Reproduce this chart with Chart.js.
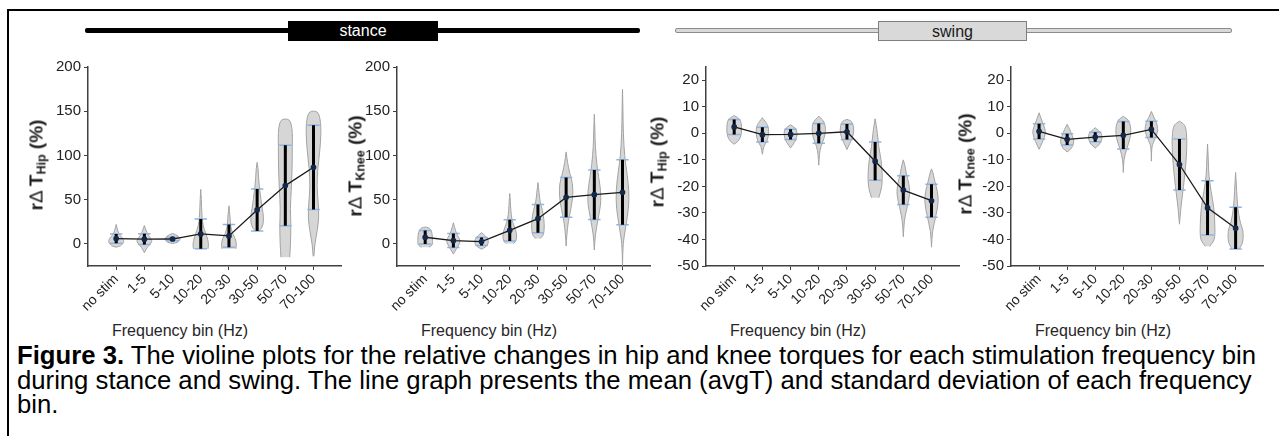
<!DOCTYPE html>
<html>
<head>
<meta charset="utf-8">
<script src="https://cdn.jsdelivr.net/npm/chart.js@4.4.0/dist/chart.umd.min.js"></script>
<style>
  body { margin: 0; width: 1279px; height: 436px; background: #fff; position: relative; overflow: hidden;
         font-family: Arial, "Liberation Sans", sans-serif; color: #1a1a1a; }
  .abs { position: absolute; }
  .frame-top { left: 7px; top: 9px; right: 0; height: 2px; background: #000; }
  .frame-left { left: 7px; top: 9px; bottom: 0; width: 2px; background: #000; }
  .phase-line { height: 5px; border-radius: 2px; box-sizing: border-box; }
  .phase-box { height: 20px; line-height: 19px; font-size: 16px; text-align: center; box-sizing: border-box; }
  .ytitle { transform: translate(-50%, -50%) rotate(-90deg); white-space: nowrap; font-size: 19px; color: #1a1a1a; }
  .ytitle b { font-weight: bold; }
  .ytitle sub { font-size: 12.5px; font-weight: bold; vertical-align: -3px; }
  .xtitle { transform: translateX(-50%); white-space: nowrap; font-size: 16px; color: #262626; }
  .caption { left: 17px; top: 343px; line-height: 24.5px; white-space: nowrap; color: #000; }
  canvas { position: absolute; }
</style>
</head>
<body>
<div class="abs frame-top"></div>
<div class="abs frame-left"></div>

<div class="abs phase-line" style="left:85px;top:28px;width:555px;background:#000;"></div>
<div class="abs phase-box" style="left:288px;top:21px;width:150px;background:#000;color:#fff;">stance</div>
<div class="abs phase-line" style="left:675px;top:28px;width:557px;background:#d9d9d9;border:1px solid #8c8c8c;"></div>
<div class="abs phase-box" style="left:878px;top:21px;width:149px;background:#d9d9d9;border:1px solid #7f7f7f;color:#1a1a1a;">swing</div>

<canvas id="c1" width="299" height="267" style="left:48px;top:55px;"></canvas>
<canvas id="c2" width="299" height="267" style="left:357px;top:55px;"></canvas>
<canvas id="c3" width="299" height="267" style="left:666px;top:55px;"></canvas>
<canvas id="c4" width="298" height="267" style="left:971px;top:55px;"></canvas>

<div class="abs ytitle" style="left:37px;top:165px;"><b>r</b>Δ <b>T</b><sub>Hip</sub> <b>(%)</b></div>
<div class="abs ytitle" style="left:356px;top:166px;"><b>r</b>Δ <b>T</b><sub>Knee</sub> <b>(%)</b></div>
<div class="abs ytitle" style="left:658px;top:162px;"><b>r</b>Δ <b>T</b><sub>Hip</sub> <b>(%)</b></div>
<div class="abs ytitle" style="left:966px;top:164px;"><b>r</b>Δ <b>T</b><sub>Knee</sub> <b>(%)</b></div>

<div class="abs xtitle" style="left:180px;top:322px;">Frequency bin (Hz)</div>
<div class="abs xtitle" style="left:489px;top:322px;">Frequency bin (Hz)</div>
<div class="abs xtitle" style="left:798px;top:322px;">Frequency bin (Hz)</div>
<div class="abs xtitle" style="left:1103px;top:322px;">Frequency bin (Hz)</div>

<div class="abs caption" id="caption">
  <span id="line1"><b>Figure 3.</b> The violine plots for the relative changes in hip and knee torques for each stimulation frequency bin</span><br>
  <span>during stance and swing. The line graph presents the mean (avgT) and standard deviation of each frequency</span><br>
  <span>bin.</span>
</div>

<script>
// --- DATA ---
const bins = ['no stim', '1-5', '5-10', '10-20', '20-30', '30-50', '50-70', '70-100'];

// stance, hip
const hipStanceMean = [6, 5.3, 5.5, 11.3, 9, 38.4, 65.9, 86.6];
const hipStanceSD = [5.3, 6.1, 1.9, 16.9, 12.8, 23.7, 45.5, 47.6];
const hipStanceViolins = [
    [[-3.7, 0], [-2, 0.6], [2, 1], [6, 0.9], [10, 0.5], [15, 0.22], [22, 0]],
    [[-9.9, 0], [-4, 0.4], [1, 0.9], [4, 1], [8, 0.7], [13, 0.35], [20.7, 0]],
    [[0.4, 0], [2, 0.7], [5, 1], [8, 0.85], [10.5, 0.4], [11.7, 0]],
    [[-5.6, 1], [0, 1.05], [8, 0.85], [16, 0.5], [25, 0.25], [35, 0.15], [50, 0.08], [61.7, 0]],
    [[-5.6, 0.95], [0, 1], [6, 0.85], [12, 0.5], [20, 0.25], [30, 0.15], [43, 0]],
    [[14.6, 0.2], [18, 0.6], [25, 0.85], [35, 0.8], [45, 0.6], [55, 0.45], [65, 0.3], [75, 0.2], [85, 0.12], [92.2, 0]],
    [[-15, 0.6], [0, 0.7], [20, 0.75], [40, 0.7], [60, 0.8], [80, 0.9], [110, 0.95], [130, 0.9], [140, 0.5]],
    [[-14, 0.05], [0, 0.2], [15, 0.5], [30, 0.7], [45, 0.65], [65, 0.5], [85, 0.6], [105, 0.85], [125, 1], [140, 0.9], [149, 0.5]]
];

// stance, knee
const kneeStanceMean = [7.5, 3.8, 2.6, 15.3, 28.5, 52.6, 55.6, 58.3];
const kneeStanceSD = [7.5, 7.9, 4.5, 12, 16, 22.4, 27.9, 36.7];
const kneeStanceViolins = [
    [[-3.8, 0.5], [-1, 0.95], [4, 1], [10, 0.95], [15, 0.8], [18.4, 0.4]],
    [[-11.5, 0], [-5, 0.45], [0, 0.8], [4, 0.9], [9, 0.6], [15, 0.3], [23.9, 0]],
    [[-6, 0], [-3, 0.6], [1, 0.9], [5, 0.85], [9, 0.5], [12.8, 0]],
    [[0.3, 0.5], [4, 0.85], [12, 0.9], [20, 0.6], [28, 0.3], [38, 0.15], [48, 0.08], [56.9, 0]],
    [[6, 0.3], [10, 0.7], [18, 0.85], [28, 0.8], [38, 0.6], [48, 0.3], [58, 0.15], [69.3, 0]],
    [[-2.4, 0], [10, 0.1], [25, 0.3], [40, 0.65], [55, 0.9], [68, 0.85], [80, 0.5], [92, 0.2], [104, 0]],
    [[-6.9, 0], [10, 0.15], [30, 0.55], [45, 0.85], [60, 0.85], [75, 0.6], [90, 0.35], [110, 0.15], [130, 0.07], [146.5, 0]],
    [[-24.6, 0], [0, 0.1], [20, 0.45], [40, 0.8], [60, 0.85], [80, 0.6], [100, 0.3], [125, 0.12], [150, 0.06], [174.8, 0]]
];

// swing, hip
const hipSwingMean = [2.4, -0.5, -0.4, 0, 0.6, -10.5, -21.4, -25.4];
const hipSwingSD = [2.8, 2.8, 1.9, 3.75, 2.9, 7.2, 5.4, 6.25];
const hipSwingViolins = [
    [[-4.1, 0], [-3, 0.5], [-1, 0.9], [2, 1], [5, 0.8], [6.75, 0]],
    [[-7.9, 0], [-5, 0.2], [-3, 0.6], [0, 0.85], [3, 0.7], [5.9, 0]],
    [[-5.5, 0], [-3.5, 0.5], [-1, 0.85], [1.5, 0.75], [3.25, 0]],
    [[-12, 0], [-8, 0.1], [-5, 0.3], [-2, 0.7], [1, 0.9], [4, 0.75], [6.5, 0]],
    [[-6.1, 0], [-4, 0.35], [-1, 0.8], [2, 0.9], [4.5, 0.6], [5.25, 0]],
    [[-24.25, 0.5], [-20, 0.9], [-15, 0.95], [-10, 0.8], [-5, 0.5], [0, 0.3], [3, 0.15], [5.5, 0]],
    [[-39, 0], [-33, 0.15], [-28, 0.5], [-23, 0.85], [-19, 0.75], [-15, 0.4], [-12, 0.2], [-10, 0]],
    [[-42.9, 0], [-37, 0.15], [-31, 0.6], [-26, 0.9], [-22, 0.8], [-18, 0.45], [-15, 0.2], [-13.4, 0]]
];

// swing, knee
const kneeSwingMean = [0.75, -2.25, -1.4, -0.75, 1.5, -11.75, -28.1, -35.75];
const kneeSwingSD = [2.9, 2.1, 1.8, 5.2, 3.1, 9.6, 10.2, 7.85];
const kneeSwingViolins = [
    [[-6, 0], [-3, 0.5], [0, 0.85], [2, 0.75], [5, 0.35], [7.75, 0]],
    [[-7, 0], [-5.5, 0.6], [-3, 0.9], [-1, 0.7], [1.5, 0.35], [3.4, 0]],
    [[-5.5, 0], [-4, 0.6], [-2, 0.9], [0, 0.8], [2.1, 0]],
    [[-14.75, 0], [-10, 0.1], [-6, 0.45], [-2, 0.9], [2, 1], [5, 0.65], [6.4, 0]],
    [[-10.5, 0], [-5, 0.1], [-2, 0.5], [1, 0.85], [4, 0.7], [6, 0.35], [8.25, 0]],
    [[-34.25, 0], [-28, 0.2], [-20, 0.55], [-12, 0.85], [-5, 1], [0, 0.95], [3, 0.7], [4.6, 0]],
    [[-42.6, 0.3], [-40, 0.9], [-35, 1], [-28, 0.85], [-22, 0.5], [-16, 0.2], [-10, 0.1], [-4, 0]],
    [[-43.6, 0.5], [-41, 0.95], [-37, 1], [-33, 0.6], [-28, 0.3], [-22, 0.15], [-14.75, 0]]
];

const stanceTicks = [0, 50, 100, 150, 200];
const swingTicks = [-50, -40, -30, -20, -10, 0, 10, 20];

// --- STYLE ---
const VIOLIN_HALF = 0.26;   // max half width, in category units
const CAP_HALF = 0.22;
const AXIS_COLOR = '#404040';
const TEXT_COLOR = '#222';

function violinShape(profile, center) {
    const right = profile.map(([y, w]) => ({ x: center + w * VIOLIN_HALF, y: y }));
    const left = profile.slice().reverse().map(([y, w]) => ({ x: center - w * VIOLIN_HALF, y: y }));
    return right.concat(left);
}

function buildDatasets(mean, sd, violins) {
    const sets = [];
    violins.forEach((profile, i) => {
        sets.push({
            data: violinShape(profile, i + 1),
            showLine: true,
            fill: 'shape',
            backgroundColor: 'rgba(200,200,200,0.75)',
            borderColor: '#a3a3a3',
            borderWidth: 1,
            pointRadius: 0,
            tension: 0.35,
            order: 4
        });
    });
    const bars = [], caps = [];
    mean.forEach((m, i) => {
        const x = i + 1;
        bars.push({ x: x, y: m - sd[i] }, { x: x, y: m + sd[i] }, { x: x, y: null });
        caps.push({ x: x - CAP_HALF, y: m - sd[i] }, { x: x + CAP_HALF, y: m - sd[i] }, { x: x, y: null });
        caps.push({ x: x - CAP_HALF, y: m + sd[i] }, { x: x + CAP_HALF, y: m + sd[i] }, { x: x, y: null });
    });
    sets.push({ data: caps, showLine: true, spanGaps: false, borderColor: '#8eb4e3', borderWidth: 1.5, pointRadius: 0, order: 3 });
    sets.push({ data: bars, showLine: true, spanGaps: false, borderColor: '#000', borderWidth: 3, pointRadius: 0, order: 2 });
    sets.push({
        data: mean.map((m, i) => ({ x: i + 1, y: m })),
        showLine: true,
        borderColor: '#1a1a1a',
        borderWidth: 1.3,
        pointRadius: 2.2,
        pointBackgroundColor: '#14284a',
        pointBorderColor: '#14284a',
        order: 1
    });
    return sets;
}

function makeChart(id, mean, sd, violins, yMin, yMax, yTicks) {
    const ctx = document.getElementById(id).getContext('2d');
    return new Chart(ctx, {
        type: 'scatter',
        data: { datasets: buildDatasets(mean, sd, violins) },
        options: {
            responsive: false,
            animation: false,
            layout: { padding: { top: 12, left: 0, right: 0, bottom: 0 } },
            plugins: { legend: { display: false }, tooltip: { enabled: false } },
            scales: {
                x: {
                    type: 'linear',
                    min: 0,
                    max: bins.length + 1,
                    afterBuildTicks: scale => { scale.ticks = bins.map((b, i) => ({ value: i + 1 })); },
                    afterFit: scale => { scale.height = 56; },
                    ticks: {
                        callback: v => bins[v - 1],
                        autoSkip: false,
                        minRotation: 45,
                        maxRotation: 45,
                        padding: 1,
                        color: TEXT_COLOR,
                        font: { family: 'Arial, "Liberation Sans"', size: 14 }
                    },
                    grid: { drawOnChartArea: false, drawTicks: true, tickLength: 4, color: AXIS_COLOR },
                    border: { display: true, color: AXIS_COLOR, width: 1.5 }
                },
                y: {
                    min: yMin,
                    max: yMax,
                    afterBuildTicks: scale => { scale.ticks = yTicks.map(v => ({ value: v })); },
                    afterFit: scale => { scale.width = 40; },
                    ticks: {
                        padding: 3,
                        color: TEXT_COLOR,
                        font: { family: 'Arial, "Liberation Sans"', size: 15 }
                    },
                    grid: { drawOnChartArea: false, drawTicks: true, tickLength: 4, color: AXIS_COLOR },
                    border: { display: true, color: AXIS_COLOR, width: 1.5 }
                }
            }
        }
    });
}

makeChart('c1', hipStanceMean, hipStanceSD, hipStanceViolins, -25, 200, stanceTicks);
makeChart('c2', kneeStanceMean, kneeStanceSD, kneeStanceViolins, -25, 200, stanceTicks);
makeChart('c3', hipSwingMean, hipSwingSD, hipSwingViolins, -50, 25, swingTicks);
makeChart('c4', kneeSwingMean, kneeSwingSD, kneeSwingViolins, -50, 25, swingTicks);

// fit caption font so the first line spans the figure width
const cap = document.getElementById('caption');
cap.style.fontSize = '20px';
const w = document.getElementById('line1').getBoundingClientRect().width;
cap.style.fontSize = (20 * 1239 / w).toFixed(2) + 'px';
</script>
</body>
</html>
